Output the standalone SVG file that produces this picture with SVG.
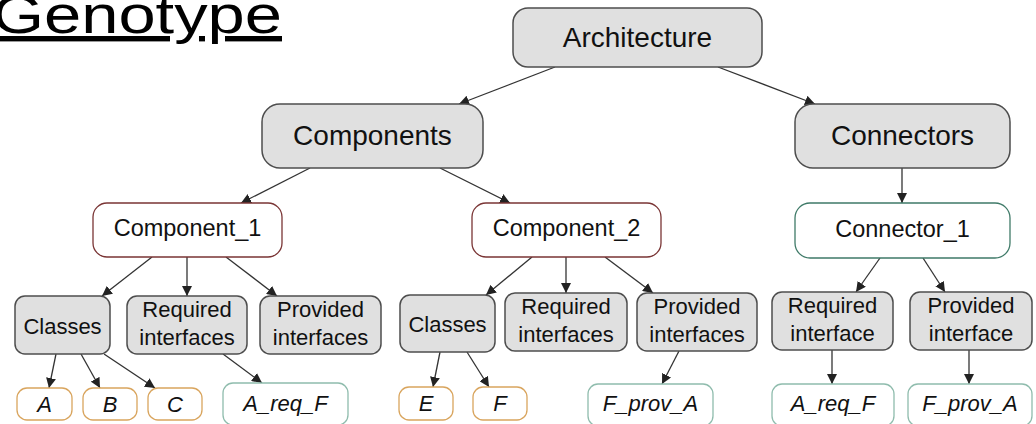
<svg xmlns="http://www.w3.org/2000/svg" width="1036" height="424" viewBox="0 0 1036 424">
<defs>
<marker id="ah" viewBox="0 0 10 10" refX="10" refY="5" markerWidth="10" markerHeight="10" markerUnits="userSpaceOnUse" orient="auto">
<path d="M0,0 L10,5 L0,10 z" fill="#222"/>
</marker>
<style>
.t{font-family:"Liberation Sans",Arial,sans-serif;fill:#111;text-anchor:middle}
.gray{fill:#e0e0e0;stroke:#4d4d4d;stroke-width:1.5}
.comp{fill:#fff;stroke:#7a3535;stroke-width:1.3}
.conn{fill:#fff;stroke:#3f7a68;stroke-width:1.3}
.cls{fill:#fff;stroke:#d9a55e;stroke-width:1.3}
.itf{fill:#fff;stroke:#8fbcad;stroke-width:1.3}
.e{stroke:#333;stroke-width:1.3;fill:none;marker-end:url(#ah)}
.big{font-size:28px}
.mid{font-size:23.5px}
.sm{font-size:22px}
.it{font-size:22px;font-style:italic}
</style>
</defs>
<rect width="1036" height="424" fill="#fff"/>
<text x="-8" y="33" font-family="Liberation Sans,Arial,sans-serif" font-size="54" fill="#000" text-decoration="underline" textLength="290" lengthAdjust="spacingAndGlyphs">Genotype</text>

<g id="connectors">
<line class="e" x1="555" y1="67" x2="459" y2="104"/>
<line class="e" x1="718" y1="67" x2="815" y2="104"/>
<line class="e" x1="310" y1="168" x2="241" y2="203"/>
<line class="e" x1="440" y1="168" x2="510" y2="203"/>
<line class="e" x1="902" y1="168" x2="902" y2="203"/>
<line class="e" x1="152" y1="257" x2="102" y2="296"/>
<line class="e" x1="187" y1="257" x2="187" y2="296"/>
<line class="e" x1="226" y1="257" x2="277" y2="296"/>
<line class="e" x1="56" y1="354" x2="49" y2="388"/>
<line class="e" x1="81" y1="354" x2="100" y2="388"/>
<line class="e" x1="104" y1="354" x2="155" y2="388"/>
<line class="e" x1="223" y1="354" x2="262" y2="383"/>
<line class="e" x1="532" y1="257" x2="486" y2="295"/>
<line class="e" x1="566" y1="257" x2="566" y2="293"/>
<line class="e" x1="605" y1="257" x2="653" y2="293"/>
<line class="e" x1="440" y1="352" x2="433" y2="387"/>
<line class="e" x1="467" y1="352" x2="489" y2="387"/>
<line class="e" x1="679" y1="351" x2="662" y2="384"/>
<line class="e" x1="880" y1="258" x2="856" y2="292"/>
<line class="e" x1="923" y1="258" x2="945" y2="292"/>
<line class="e" x1="832" y1="350" x2="832" y2="384"/>
<line class="e" x1="969" y1="350" x2="969" y2="384"/>
</g>

<g id="architecture"><rect class="gray" x="513" y="8" width="249" height="59" rx="15"/><text class="t big" x="637.5" y="47">Architecture</text></g>
<g id="components"><rect class="gray" x="262" y="104" width="221" height="64" rx="18"/><text class="t big" x="372.5" y="145">Components</text></g>
<g id="connectors-node"><rect class="gray" x="795" y="104" width="215" height="64" rx="18"/><text class="t big" x="902.5" y="145">Connectors</text></g>

<g id="component1"><rect class="comp" x="93" y="203" width="189" height="54" rx="14"/><text class="t mid" x="187.5" y="236">Component_1</text></g>
<g id="component2"><rect class="comp" x="472" y="203" width="189" height="54" rx="14"/><text class="t mid" x="566.5" y="236">Component_2</text></g>
<g id="connector1"><rect class="conn" x="795" y="203" width="215" height="55" rx="15"/><text class="t mid" x="902.5" y="237">Connector_1</text></g>

<g id="classes1"><rect class="gray" x="15" y="296" width="95" height="58" rx="10"/><text class="t sm" x="62.5" y="334">Classes</text></g>
<g id="req1"><rect class="gray" x="127" y="296" width="120" height="58" rx="10"/><text class="t sm" x="187" y="317">Required</text><text class="t sm" x="187" y="345">interfaces</text></g>
<g id="prov1"><rect class="gray" x="260" y="296" width="121" height="58" rx="10"/><text class="t sm" x="320.5" y="317">Provided</text><text class="t sm" x="320.5" y="345">interfaces</text></g>

<g id="classes2"><rect class="gray" x="400" y="295" width="95" height="57" rx="10"/><text class="t sm" x="447.5" y="332">Classes</text></g>
<g id="req2"><rect class="gray" x="505" y="293" width="122" height="58" rx="10"/><text class="t sm" x="566" y="314">Required</text><text class="t sm" x="566" y="342">interfaces</text></g>
<g id="prov2"><rect class="gray" x="637" y="293" width="120" height="58" rx="10"/><text class="t sm" x="697" y="314">Provided</text><text class="t sm" x="697" y="342">interfaces</text></g>

<g id="reqc"><rect class="gray" x="772" y="292" width="121" height="58" rx="10"/><text class="t sm" x="832.5" y="313">Required</text><text class="t sm" x="832.5" y="341">interface</text></g>
<g id="provc"><rect class="gray" x="910" y="292" width="122" height="58" rx="10"/><text class="t sm" x="971" y="313">Provided</text><text class="t sm" x="971" y="341">interface</text></g>

<g id="leafA"><rect class="cls" x="17" y="388" width="55" height="32" rx="10"/><text class="t it" x="44.5" y="412">A</text></g>
<g id="leafB"><rect class="cls" x="83" y="388" width="54" height="32" rx="10"/><text class="t it" x="110" y="412">B</text></g>
<g id="leafC"><rect class="cls" x="148" y="388" width="54" height="32" rx="10"/><text class="t it" x="175" y="412">C</text></g>
<g id="leafAreqF1"><rect class="itf" x="223" y="383" width="125" height="42" rx="10"/><text class="t it" x="285.5" y="411">A_req_F</text></g>
<g id="leafE"><rect class="cls" x="399" y="387" width="54" height="33" rx="10"/><text class="t it" x="426" y="411">E</text></g>
<g id="leafF"><rect class="cls" x="473" y="387" width="54" height="33" rx="10"/><text class="t it" x="500" y="411">F</text></g>
<g id="leafFprovA1"><rect class="itf" x="588" y="384" width="125" height="42" rx="10"/><text class="t it" x="650.5" y="411">F_prov_A</text></g>
<g id="leafAreqF2"><rect class="itf" x="772" y="384" width="122" height="42" rx="10"/><text class="t it" x="833" y="411">A_req_F</text></g>
<g id="leafFprovA2"><rect class="itf" x="908" y="384" width="124" height="42" rx="10"/><text class="t it" x="970" y="411">F_prov_A</text></g>
</svg>
